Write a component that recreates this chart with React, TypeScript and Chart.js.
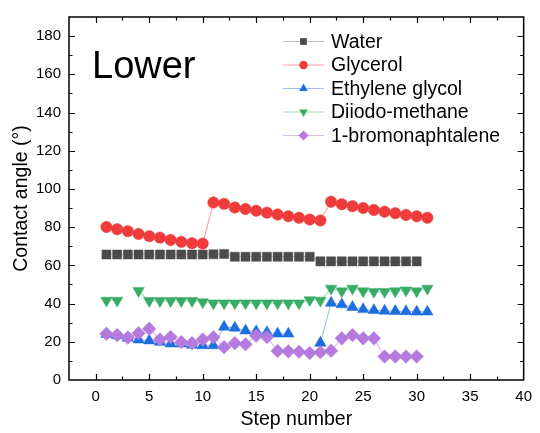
import React, { useEffect, useRef } from 'react';
import { Chart, registerables } from 'chart.js';

Chart.register(...registerables);

const FONT = 'Arial, "Liberation Sans", sans-serif';

const steps = [1, 2, 3, 4, 5, 6, 7, 8, 9, 10, 11, 12, 13, 14, 15, 16, 17, 18, 19, 20, 21, 22, 23, 24, 25, 26, 27, 28, 29, 30, 31];

const water = [65.7, 65.7, 65.7, 65.7, 65.7, 65.7, 65.7, 65.7, 65.7, 65.7, 65.8, 66.0, 64.5, 64.5, 64.5, 64.5, 64.5, 64.5, 64.5, 64.5, 62.1, 62.1, 62.1, 62.1, 62.1, 62.1, 62.1, 62.1, 62.1, 62.1];
const glycerol = [80.1, 78.9, 77.9, 76.4, 75.3, 74.5, 73.3, 72.3, 71.6, 71.4, 92.9, 92.2, 90.3, 89.5, 88.6, 87.6, 86.6, 85.7, 84.9, 84.0, 83.5, 93.3, 92.0, 91.0, 90.0, 89.0, 88.1, 87.3, 86.4, 85.7, 84.9];
const ethyleneGlycol = [24.0, 23.3, 22.0, 21.1, 20.6, 19.9, 19.0, 19.0, 18.3, 18.1, 18.1, 27.8, 27.3, 25.8, 25.4, 24.9, 24.2, 24.2, null, null, 19.4, 40.3, 39.5, 38.1, 37.0, 36.5, 36.2, 36.0, 35.9, 35.7, 35.7];
const diiodomethane = [41.6, 41.6, null, 46.7, 41.4, 41.4, 41.4, 41.4, 41.4, 40.8, 40.2, 40.2, 40.2, 40.2, 40.2, 40.2, 40.2, 40.2, 40.2, 41.9, 41.6, 47.9, 46.5, 47.9, 46.5, 46.2, 46.2, 46.5, 47.0, 46.5, 47.9];
const bromonaphthalene = [24.2, 23.5, 22.2, 24.5, 26.8, 21.2, 22.5, 19.8, 19.3, 21.2, 22.4, 17.2, 19.3, 18.7, 23.2, 22.5, 15.2, 15.0, 14.8, 14.1, 14.5, 15.3, 21.8, 23.5, 21.8, 21.8, 12.3, 12.3, 12.3, 12.3];

const seriesNames = ['Water', 'Glycerol', 'Ethylene glycol', 'Diiodo-methane', '1-bromonaphtalene'];
const xTickValues = [0, 5, 10, 15, 20, 25, 30, 35, 40];
const yTickValues = [0, 20, 40, 60, 80, 100, 120, 140, 160, 180];

const markerColors = ['#4b4b4b', '#ef3b3b', '#1c6de0', '#38ab66', '#b57ade'];
const lineColors = ['#bdbdbd', '#f6a3a3', '#9cc0f2', '#a6dcb8', '#d8b9f0'];
const styles = ['rect', 'circle', 'triangle', 'triangle', 'rectRot'];
const rotations = [0, 0, 0, 180, 0];
const radii = [6.4, 5.7, 6.6, 6.6, 6.8];

function pts(vals: (number | null)[]) {
  return vals.map((v, i) => ({ x: steps[i], y: v }));
}

function drawMarker(ctx: CanvasRenderingContext2D, style: string, rot: number, x: number, y: number, r: number) {
  ctx.beginPath();
  if (style === 'circle') {
    ctx.arc(x, y, r, 0, Math.PI * 2);
  } else if (style === 'rect') {
    const s = r * Math.SQRT1_2;
    ctx.rect(x - s, y - s, 2 * s, 2 * s);
  } else if (style === 'rectRot') {
    ctx.moveTo(x, y - r);
    ctx.lineTo(x + r, y);
    ctx.lineTo(x, y + r);
    ctx.lineTo(x - r, y);
    ctx.closePath();
  } else {
    let a = (rot * Math.PI) / 180;
    ctx.moveTo(x + Math.sin(a) * r, y - Math.cos(a) * r);
    a += (2 * Math.PI) / 3;
    ctx.lineTo(x + Math.sin(a) * r, y - Math.cos(a) * r);
    a += (2 * Math.PI) / 3;
    ctx.lineTo(x + Math.sin(a) * r, y - Math.cos(a) * r);
    ctx.closePath();
  }
  ctx.fill();
}

const framePlugin = {
  id: 'frame',
  afterDraw(chart: any) {
    const { ctx, chartArea } = chart;
    const { left, right, top, bottom } = chartArea;
    const xs = chart.scales.x;
    const ys = chart.scales.y;
    ctx.save();
    ctx.strokeStyle = '#000';
    ctx.lineWidth = 1.5;
    ctx.strokeRect(left, top, right - left, bottom - top);
    ctx.lineWidth = 1.2;
    ctx.beginPath();
    for (let v = 0; v < 40; v += 2.5) {
      const px = Math.round(xs.getPixelForValue(v)) + 0.5;
      const len = v % 5 === 0 ? 6 : 3.5;
      ctx.moveTo(px, bottom);
      ctx.lineTo(px, bottom - len);
      ctx.moveTo(px, top);
      ctx.lineTo(px, top + len);
    }
    for (let v = 10; v < 190; v += 10) {
      const py = Math.round(ys.getPixelForValue(v)) + 0.5;
      const len = v % 20 === 0 ? 6 : 3.5;
      ctx.moveTo(left, py);
      ctx.lineTo(left + len, py);
      ctx.moveTo(right, py);
      ctx.lineTo(right - len, py);
    }
    ctx.stroke();

    // Panel label
    ctx.fillStyle = '#000';
    ctx.font = `38px ${FONT}`;
    ctx.textBaseline = 'alphabetic';
    ctx.textAlign = 'left';
    ctx.fillText('Lower', 92, 78);

    // Legend
    const lx0 = 283;
    const lx1 = 324;
    const mx = 303.5;
    const tx = 331;
    const rowY = [41.5, 65, 88.5, 112, 135.5];
    ctx.font = `19.5px ${FONT}`;
    ctx.textBaseline = 'middle';
    seriesNames.forEach((name, i) => {
      const yy = rowY[i];
      ctx.strokeStyle = lineColors[i];
      ctx.lineWidth = 1.2;
      ctx.beginPath();
      ctx.moveTo(lx0, yy);
      ctx.lineTo(lx1, yy);
      ctx.stroke();
      ctx.fillStyle = markerColors[i];
      drawMarker(ctx, styles[i], rotations[i], mx, yy, radii[i] * 0.75);
      ctx.fillStyle = '#000';
      ctx.fillText(name, tx, yy + 1);
    });
    ctx.restore();
  },
};

export default function App() {
  const ref = useRef<HTMLCanvasElement | null>(null);

  useEffect(() => {
    if (!ref.current) return;
    const allSeries = [water, glycerol, ethyleneGlycol, diiodomethane, bromonaphthalene];
    const datasets = allSeries.map((vals, i) => ({
      label: seriesNames[i],
      data: pts(vals),
      borderColor: lineColors[i],
      borderWidth: 1.1,
      backgroundColor: markerColors[i],
      pointBackgroundColor: markerColors[i],
      pointBorderColor: markerColors[i],
      pointBorderWidth: 0.5,
      pointStyle: styles[i],
      pointRotation: rotations[i],
      pointRadius: radii[i],
      pointHoverRadius: radii[i],
      spanGaps: false,
      order: 4 - i,
      tension: 0,
    }));

    const chart = new Chart(ref.current, {
      type: 'line',
      data: { datasets },
      options: {
        animation: false,
        responsive: false,
        maintainAspectRatio: false,
        layout: { padding: { top: 9, right: 11, left: 0, bottom: 0 } },
        plugins: { legend: { display: false }, tooltip: { enabled: false } },
        scales: {
          x: {
            type: 'linear',
            min: -2.5,
            max: 40,
            grid: { display: false, drawTicks: false },
            border: { display: false },
            afterBuildTicks: (s: any) => {
              s.ticks = xTickValues.map((v) => ({ value: v }));
            },
            afterFit: (s: any) => {
              s.height = 53;
            },
            ticks: {
              padding: 8,
              color: '#000',
              font: { family: FONT, size: 15 },
              maxRotation: 0,
              autoSkip: false,
            },
            title: {
              display: true,
              text: 'Step number',
              color: '#000',
              font: { family: FONT, size: 19.5 },
              padding: { top: 0, bottom: 2 },
            },
          },
          y: {
            type: 'linear',
            min: 0,
            max: 190,
            grid: { display: false, drawTicks: false },
            border: { display: false },
            afterBuildTicks: (s: any) => {
              s.ticks = yTickValues.map((v) => ({ value: v }));
            },
            afterFit: (s: any) => {
              s.width = 69;
            },
            ticks: {
              padding: 8,
              color: '#000',
              font: { family: FONT, size: 15 },
              autoSkip: false,
            },
            title: {
              display: true,
              text: 'Contact angle (°)',
              color: '#000',
              font: { family: FONT, size: 19.5 },
              padding: { top: 10, bottom: 0 },
            },
          },
        },
      },
      plugins: [framePlugin],
    });
    return () => chart.destroy();
  }, []);

  return (
    <div style={{ position: 'fixed', left: 0, top: 0, width: 540, height: 433, background: '#fff' }}>
      <canvas ref={ref} width={540} height={433} style={{ width: 540, height: 433, display: 'block' }} />
    </div>
  );
}
